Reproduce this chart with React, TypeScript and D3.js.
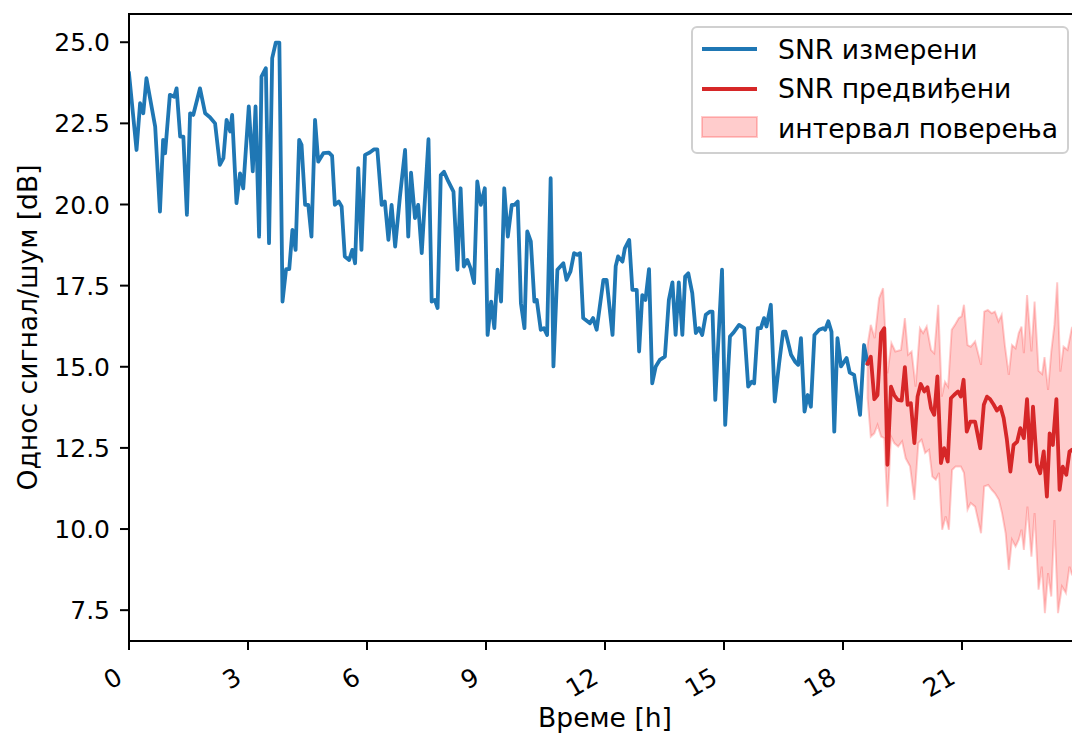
import React from "react";
import * as d3 from "d3";

// measured SNR [hour, dB]
const measured: [number, number][] = [
  [0, 24.04], [0.19, 21.68], [0.28, 23.12], [0.36, 22.81], [0.44, 23.89], [0.66, 22.4], [0.78, 19.78],
  [0.86, 21.99], [0.91, 21.58], [1.03, 23.38], [1.14, 23.32], [1.2, 23.58], [1.29, 22.09], [1.37, 22.09],
  [1.46, 19.68], [1.54, 22.81], [1.62, 22.76], [1.79, 23.58], [1.92, 22.81], [2.04, 22.69], [2.17, 22.5],
  [2.29, 21.22], [2.38, 21.43], [2.46, 22.61], [2.55, 22.25], [2.6, 22.76], [2.71, 20.04], [2.8, 20.96],
  [2.88, 20.5], [3.02, 23.02], [3.12, 21.02], [3.19, 23.02], [3.28, 19.01], [3.34, 23.94], [3.45, 24.2],
  [3.53, 18.81], [3.61, 24.51], [3.7, 24.99], [3.79, 24.99], [3.87, 17.01], [3.96, 18.01], [4.04, 18.01],
  [4.12, 19.22], [4.2, 18.6], [4.29, 21.99], [4.35, 21.84], [4.44, 19.99], [4.52, 19.99], [4.6, 19.01],
  [4.69, 22.61], [4.77, 21.32], [4.9, 21.58], [5.04, 21.6], [5.12, 21.5], [5.19, 19.99], [5.29, 20.09],
  [5.36, 19.94], [5.44, 18.4], [5.55, 18.29], [5.63, 18.6], [5.7, 18.19], [5.78, 21.12], [5.86, 18.6],
  [5.95, 21.53], [6.07, 21.6], [6.18, 21.7], [6.26, 21.7], [6.37, 19.99], [6.45, 20.09], [6.54, 18.91],
  [6.62, 19.99], [6.71, 18.7], [6.83, 20.24], [6.96, 21.68], [7.04, 19.01], [7.11, 20.98], [7.21, 19.58],
  [7.29, 19.99], [7.38, 18.5], [7.55, 22.01], [7.63, 17.01], [7.71, 17.06], [7.78, 16.81], [7.86, 20.91],
  [7.94, 21.01], [8.05, 20.71], [8.18, 20.4], [8.28, 17.99], [8.36, 20.5], [8.44, 18.09], [8.53, 18.29],
  [8.61, 18.04], [8.7, 17.58], [8.78, 20.71], [8.87, 19.99], [8.97, 20.5], [9.04, 15.98], [9.13, 17.01],
  [9.21, 16.19], [9.29, 17.99], [9.38, 17.01], [9.46, 20.5], [9.55, 19.01], [9.65, 19.99], [9.72, 19.99],
  [9.8, 20.09], [9.88, 16.96], [9.97, 16.19], [10.04, 19.17], [10.13, 18.86], [10.22, 17.01], [10.28, 17.06],
  [10.38, 16.14], [10.46, 16.19], [10.54, 15.98], [10.63, 20.81], [10.7, 15.01], [10.8, 17.99], [10.95, 18.19],
  [11.03, 17.68], [11.13, 17.94], [11.22, 18.5], [11.3, 18.45], [11.37, 18.5], [11.45, 16.5], [11.62, 16.34],
  [11.7, 16.5], [11.79, 16.14], [11.96, 17.68], [12.04, 17.68], [12.19, 15.98], [12.27, 18.1], [12.33, 18.4],
  [12.44, 18.24], [12.5, 18.65], [12.61, 18.91], [12.69, 17.37], [12.8, 17.37], [12.86, 15.47], [12.94, 17.21],
  [13.02, 17.06], [13.11, 18.01], [13.19, 14.49], [13.28, 15.01], [13.38, 15.21], [13.51, 15.31], [13.61, 17.06],
  [13.7, 17.6], [13.78, 15.98], [13.86, 17.6], [13.95, 15.98], [14.02, 17.78], [14.1, 17.88], [14.2, 17.27],
  [14.29, 16.04], [14.37, 16.19], [14.45, 15.98], [14.54, 16.6], [14.65, 16.7], [14.71, 16.7], [14.78, 13.98],
  [14.95, 17.99], [15.03, 13.21], [15.15, 15.93], [15.23, 16.04], [15.38, 16.29], [15.51, 16.19], [15.61, 14.39],
  [15.7, 14.54], [15.76, 14.49], [15.85, 16.19], [15.93, 16.19], [16.01, 16.5], [16.07, 16.24], [16.18, 16.91],
  [16.28, 13.93], [16.39, 15.11], [16.49, 16.08], [16.55, 16.08], [16.69, 15.37], [16.79, 15.16], [16.87, 15.06],
  [16.94, 15.88], [17.03, 13.62], [17.11, 14.13], [17.19, 13.77], [17.28, 15.98], [17.4, 16.14], [17.5, 16.19],
  [17.55, 16.14], [17.63, 16.4], [17.71, 16.08], [17.78, 13.0], [17.86, 15.88], [17.95, 15.01], [18.09, 15.27],
  [18.17, 14.82], [18.28, 14.75], [18.43, 13.52], [18.53, 15.67], [18.62, 15.1],
];

// predicted SNR [hour, dB]
const predicted: [number, number][] = [
  [18.62, 15.1], [18.7, 15.31], [18.79, 14.0], [18.87, 14.13], [18.96, 16.03], [19.04, 16.19], [19.12, 11.98],
  [19.21, 14.39], [19.29, 14.13], [19.38, 13.98], [19.48, 13.96], [19.56, 14.99], [19.63, 13.83], [19.71, 13.88],
  [19.8, 12.65], [19.88, 14.08], [19.96, 14.47], [20.05, 14.24], [20.13, 14.37], [20.22, 13.72], [20.3, 13.52],
  [20.38, 14.7], [20.47, 12.03], [20.55, 12.49], [20.64, 12.08], [20.72, 14.03], [20.8, 14.13], [20.9, 14.24],
  [20.97, 14.08], [21.04, 14.6], [21.12, 13.0], [21.21, 13.31], [21.33, 13.31], [21.46, 12.49], [21.55, 13.83],
  [21.63, 14.08], [21.71, 14.0], [21.8, 13.83], [21.88, 13.65], [21.97, 13.77], [22.05, 13.42], [22.13, 12.77],
  [22.22, 11.77], [22.3, 12.59], [22.39, 12.69], [22.47, 13.11], [22.56, 12.8], [22.64, 14.0], [22.72, 12.08],
  [22.79, 13.77], [22.89, 11.98], [22.97, 11.72], [23.06, 12.39], [23.14, 11.0], [23.21, 12.95], [23.29, 12.59],
  [23.38, 14.0], [23.46, 11.21], [23.54, 11.92], [23.63, 11.67], [23.71, 12.39], [23.77, 12.44], [23.85, 12.3],
];

// confidence interval, upper and lower bounds [hour, dB]
const upperBound: [number, number][] = [
  [18.62, 15.67], [18.7, 16.29], [18.8, 15.88], [18.91, 17.11], [19.01, 17.42], [19.12, 14.8], [19.22, 15.73],
  [19.32, 15.47], [19.46, 15.52], [19.56, 16.5], [19.64, 15.37], [19.73, 15.47], [19.83, 14.39], [19.94, 16.19],
  [20.02, 16.04], [20.11, 16.24], [20.22, 15.52], [20.3, 15.42], [20.4, 16.91], [20.49, 14.08], [20.57, 14.54],
  [20.65, 14.39], [20.74, 16.14], [20.82, 16.29], [20.92, 16.5], [20.99, 16.55], [21.05, 16.91], [21.14, 15.67],
  [21.22, 15.62], [21.33, 15.78], [21.48, 15.06], [21.56, 16.7], [21.65, 16.75], [21.75, 16.65], [21.83, 16.7],
  [21.92, 16.4], [22.0, 16.6], [22.08, 15.67], [22.18, 14.75], [22.26, 15.67], [22.35, 15.57], [22.43, 16.04],
  [22.5, 16.24], [22.56, 15.42], [22.64, 17.21], [22.75, 15.47], [22.83, 17.01], [22.93, 14.88], [23.02, 14.78],
  [23.08, 15.3], [23.17, 14.29], [23.25, 15.47], [23.33, 16.29], [23.4, 17.6], [23.48, 14.85], [23.56, 15.62],
  [23.66, 15.52], [23.77, 16.2], [23.85, 16.3],
];

const lowerBound: [number, number][] = [
  [18.62, 14.03], [18.7, 12.85], [18.79, 12.95], [18.87, 13.21], [18.96, 12.85], [19.04, 12.8], [19.12, 10.69],
  [19.21, 12.85], [19.29, 12.65], [19.39, 12.54], [19.49, 12.7], [19.58, 12.18], [19.69, 11.93], [19.8, 10.9],
  [19.9, 12.65], [19.98, 12.75], [20.07, 12.34], [20.17, 12.44], [20.25, 11.62], [20.34, 11.52], [20.42, 11.73],
  [20.5, 9.98], [20.59, 10.39], [20.67, 9.98], [20.75, 11.82], [20.84, 11.93], [20.97, 11.93], [21.05, 11.73],
  [21.14, 10.6], [21.22, 10.8], [21.33, 10.69], [21.48, 9.87], [21.56, 11.31], [21.66, 11.36], [21.75, 11.21],
  [21.83, 11.1], [21.93, 10.9], [22.01, 10.49], [22.1, 9.87], [22.18, 8.74], [22.26, 9.67], [22.35, 9.46],
  [22.43, 9.67], [22.5, 9.98], [22.56, 9.36], [22.65, 10.69], [22.75, 9.15], [22.83, 10.49], [22.93, 8.13],
  [23.01, 8.84], [23.09, 7.41], [23.17, 8.64], [23.25, 7.92], [23.33, 10.28], [23.42, 7.41], [23.52, 8.23],
  [23.62, 8.03], [23.71, 8.84], [23.77, 8.6], [23.85, 8.5],
];

const xTicks = [0, 3, 6, 9, 12, 15, 18, 21];
const yTicks = [7.5, 10.0, 12.5, 15.0, 17.5, 20.0, 22.5, 25.0];
const legendLabels = ["SNR измерени", "SNR предвиђени", "интервал поверења"];

const W = 1072;
const H = 733;
const plot = { left: 129, top: 14, right: 1081, bottom: 641 };
const FONT = "'DejaVu Sans', sans-serif";
const BLUE = "#1f77b4";
const RED = "#d62728";
const TICK_FS = 25;
const LABEL_FS = 26.6;

export default function App() {
  const x = d3.scaleLinear().domain([0, 24]).range([plot.left, plot.right]);
  const y = d3.scaleLinear().domain([6.55, 25.87]).range([plot.bottom, plot.top]);

  const line = d3
    .line<[number, number]>()
    .x((d) => x(d[0]))
    .y((d) => y(d[1]));

  const bandPath = line(upperBound.concat(lowerBound.slice().reverse())) + "Z";

  return (
    <svg
      width={W}
      height={H}
      style={{ position: "absolute", left: 0, top: 0, display: "block", background: "#fff" }}
      fontFamily={FONT}
    >
      <defs>
        <clipPath id="plot-clip">
          <rect x={plot.left} y={plot.top} width={plot.right - plot.left} height={plot.bottom - plot.top} />
        </clipPath>
      </defs>

      <g clipPath="url(#plot-clip)">
        <path d={bandPath} fill="red" fillOpacity={0.2} stroke="red" strokeOpacity={0.2} strokeWidth={2} />
        <path d={line(measured) || ""} fill="none" stroke={BLUE} strokeWidth={3.8} strokeLinejoin="round" strokeLinecap="square" />
        <path d={line(predicted) || ""} fill="none" stroke={RED} strokeWidth={3.8} strokeLinejoin="round" strokeLinecap="square" />
      </g>

      {/* spines */}
      <g stroke="#000" strokeWidth={2} fill="none">
        <line x1={plot.left} x2={plot.left} y1={plot.top - 1} y2={plot.bottom + 1} />
        <line x1={plot.left - 1} x2={plot.right} y1={plot.bottom} y2={plot.bottom} />
        <line x1={plot.left - 1} x2={plot.right} y1={plot.top} y2={plot.top} />
        <line x1={plot.right} x2={plot.right} y1={plot.top} y2={plot.bottom} />
      </g>

      {/* y axis */}
      {yTicks.map((t) => (
        <g key={"y" + t}>
          <line x1={plot.left - 9} x2={plot.left} y1={y(t)} y2={y(t)} stroke="#000" strokeWidth={2} />
          <text x={plot.left - 19} y={y(t) + 9} fontSize={TICK_FS} textAnchor="end" fill="#000">
            {t.toFixed(1)}
          </text>
        </g>
      ))}

      {/* x axis */}
      {xTicks.map((t) => (
        <g key={"x" + t}>
          <line x1={x(t)} x2={x(t)} y1={plot.bottom} y2={plot.bottom + 9} stroke="#000" strokeWidth={2} />
          <text
            transform={`translate(${x(t) - 5},${682}) rotate(-30)`}
            fontSize={TICK_FS}
            textAnchor="end"
            fill="#000"
          >
            {t}
          </text>
        </g>
      ))}

      <text x={(plot.left + plot.right) / 2} y={727} fontSize={LABEL_FS} textAnchor="middle" fill="#000">
        Време [h]
      </text>
      <text
        transform={`translate(37,${(plot.top + plot.bottom) / 2}) rotate(-90)`}
        fontSize={LABEL_FS}
        textAnchor="middle"
        fill="#000"
      >
        Однос сигнал/шум [dB]
      </text>

      {/* legend */}
      <g>
        <rect x={692} y={27} width={376} height={126} rx={5} fill="#fff" fillOpacity={0.8} stroke="#d0d0d0" strokeWidth={2} />
        <line x1={702} x2={757} y1={49} y2={49} stroke={BLUE} strokeWidth={3.8} />
        <line x1={702} x2={757} y1={89} y2={89} stroke={RED} strokeWidth={3.8} />
        <rect x={702} y={117} width={55} height={20} fill="red" fillOpacity={0.2} stroke="red" strokeOpacity={0.2} strokeWidth={2} />
        {legendLabels.map((l, i) => (
          <text key={l} x={778} y={58.5 + i * 39.5} fontSize={LABEL_FS} fill="#000">
            {l}
          </text>
        ))}
      </g>
    </svg>
  );
}
